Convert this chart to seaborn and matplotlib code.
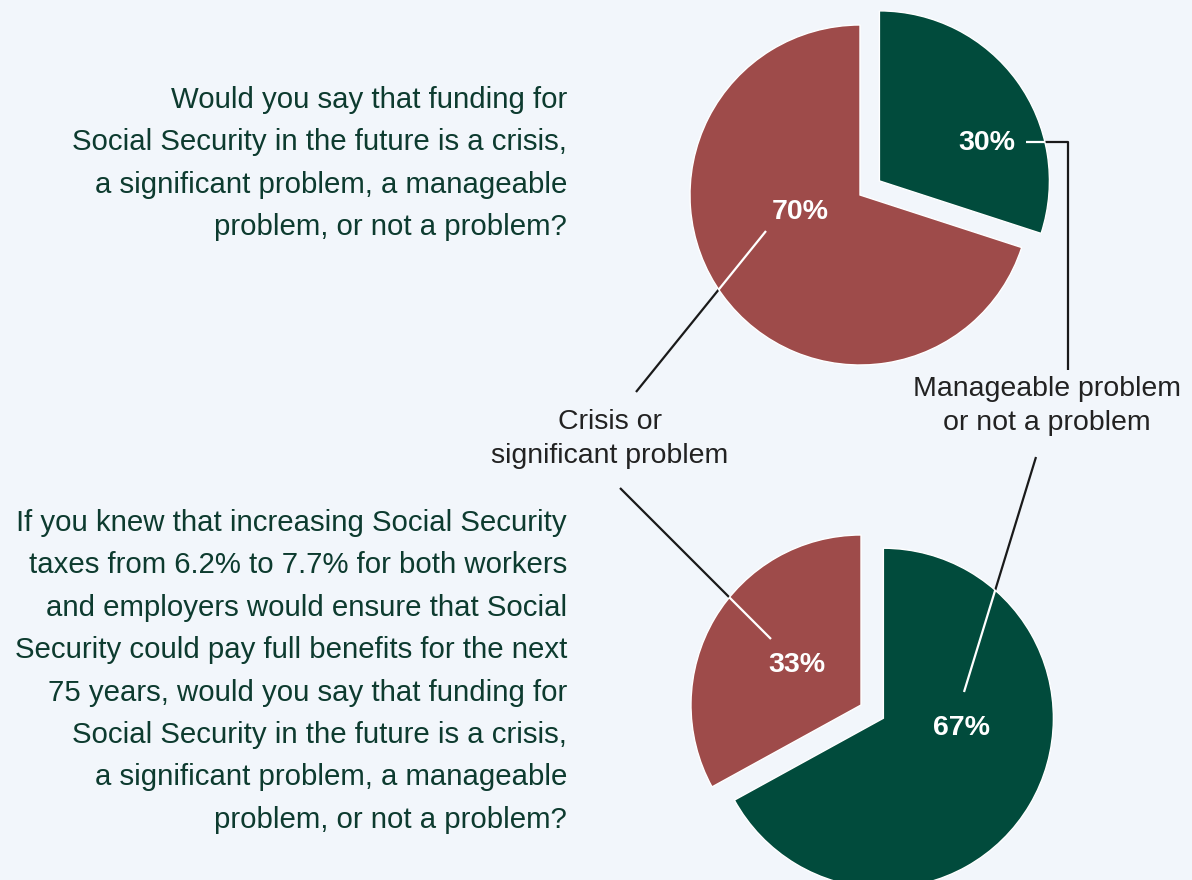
import seaborn as sns
import matplotlib.pyplot as plt

# survey answers, in percent (green = manageable / not a problem, red = crisis / significant)
cats = ['Manageable problem\nor not a problem', 'Crisis or\nsignificant problem']
q1_vals = [30, 70]
q2_vals = [67, 33]

q1_text = ['Would you say that funding for',
           'Social Security in the future is a crisis,',
           'a significant problem, a manageable',
           'problem, or not a problem?']
q2_text = ['If you knew that increasing Social Security',
           'taxes from 6.2% to 7.7% for both workers',
           'and employers would ensure that Social',
           'Security could pay full benefits for the next',
           '75 years, would you say that funding for',
           'Social Security in the future is a crisis,',
           'a significant problem, a manageable',
           'problem, or not a problem?']

BG = '#f2f6fb'
GREEN = '#014b3c'
RED = '#9e4b4a'
TXT = '#0d3b2f'
H = 880

sns.set_theme(style='white', rc={'figure.facecolor': BG, 'axes.facecolor': BG})
plt.rcParams['font.family'] = ['Liberation Sans', 'DejaVu Sans']
pal = sns.color_palette([GREEN, RED])


def Y(y):
    return H - y


fig = plt.figure(figsize=(11.92, 8.8), dpi=100)
ax = fig.add_axes([0, 0, 1, 1])

w1, _ = ax.pie(q1_vals, colors=pal, startangle=90, counterclock=False,
               center=(860, Y(195)), radius=170, explode=[24, 0])
w2, _ = ax.pie(q2_vals, colors=pal, startangle=90, counterclock=False,
               center=(861, Y(705)), radius=170, explode=[26, 0])
ax.set_xlim(0, 1192)
ax.set_ylim(0, H)
ax.set_aspect('auto')
ax.axis('off')

# percentage labels
pct = dict(color='white', fontsize=20.5, fontweight='bold', ha='center', va='center')
ax.text(987, Y(143), f'{q1_vals[0]}%', **pct)
ax.text(800, Y(212), f'{q1_vals[1]}%', **pct)
ax.text(962, Y(728), f'{q2_vals[0]}%', **pct)
ax.text(797, Y(665), f'{q2_vals[1]}%', **pct)


# leader lines: black outside, white where they sit on a wedge
def leader(xs, ys, wedge):
    ys = [Y(v) for v in ys]
    ax.plot(xs, ys, color='#1a1a1a', lw=1.6, zorder=0.5, solid_capstyle='butt')
    ln, = ax.plot(xs, ys, color='white', lw=1.6, zorder=3, solid_capstyle='butt')
    ln.set_clip_path(wedge)


leader([766, 636], [231, 392], w1[1])
leader([1026, 1068, 1068], [142, 142, 370], w1[0])
leader([771, 620], [639, 488], w2[1])
leader([964, 1036], [692, 457], w2[0])

# category labels
ax.text(610, Y(439), cats[1], color='#222222', fontsize=20.5, ha='center', va='center', linespacing=1.42)
ax.text(1047, Y(406), cats[0], color='#222222', fontsize=20.5, ha='center', va='center', linespacing=1.42)

# question texts
for i, s in enumerate(q1_text):
    ax.text(567, Y(100 + i * 42.4), s, color=TXT, fontsize=21.2, ha='right', va='center')
for i, s in enumerate(q2_text):
    ax.text(567, Y(523 + i * 42.4), s, color=TXT, fontsize=21.2, ha='right', va='center')

plt.savefig('out.png', dpi=100, facecolor=BG)
